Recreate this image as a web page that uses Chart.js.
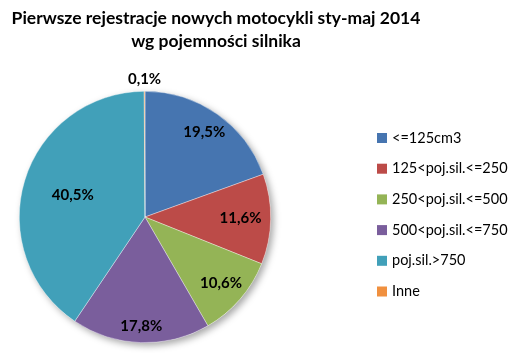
<!DOCTYPE html>
<html>
<head>
<meta charset="utf-8">
<script src="https://cdn.jsdelivr.net/npm/chart.js@4/dist/chart.umd.min.js"></script>
<style>
  body { margin: 0; background: #fff; }
  canvas { display: block; }
</style>
</head>
<body>
<canvas id="pie-chart" width="518" height="353"></canvas>
<script>
// Chart data
var titleLines = ['Pierwsze rejestracje nowych motocykli sty-maj 2014', 'wg pojemności silnika'];
var categories = ['<=125cm3', '125<poj.sil.<=250', '250<poj.sil.<=500', '500<poj.sil.<=750', 'poj.sil.>750', 'Inne'];
var shares = [19.5, 11.6, 10.6, 17.8, 40.5, 0.1];
var sliceColors = ['#4675B0', '#BC4B48', '#94B456', '#7A5E9C', '#41A0B9', '#F0903F'];

// how far out each percentage sits (fraction of radius)
var labelRadius = [0.82, 0.76, 0.8, 0.87, 0.6, 1.1];

var fontFamily = 'Lato, "Open Sans", sans-serif';

// Title, legend, labels and shadow drawn by hand (Excel look)
var excelPie = {
    id: 'excelPie',
    beforeDatasetsDraw: function (chart) {
        var arc = chart.getDatasetMeta(0).data[0];
        var ctx = chart.ctx;
        ctx.save();
        ctx.shadowColor = 'rgba(0,0,0,0.35)';
        ctx.shadowBlur = 7;
        ctx.shadowOffsetX = 3;
        ctx.shadowOffsetY = 3;
        ctx.fillStyle = '#ffffff';
        ctx.beginPath();
        ctx.arc(arc.x, arc.y, arc.outerRadius, 0, Math.PI * 2);
        ctx.fill();
        ctx.restore();
    },
    afterDraw: function (chart) {
        var ctx = chart.ctx;
        ctx.save();

        // title
        ctx.fillStyle = '#000';
        ctx.textAlign = 'center';
        ctx.textBaseline = 'middle';
        ctx.font = 'bold 17.5px ' + fontFamily;
        ctx.fillText(titleLines[0], 216, 18);
        ctx.fillText(titleLines[1], 216, 41);

        // percentages
        ctx.font = 'bold 15px ' + fontFamily;
        chart.getDatasetMeta(0).data.forEach(function (arc, i) {
            var mid = (arc.startAngle + arc.endAngle) / 2;
            var r = arc.outerRadius * labelRadius[i];
            var txt = shares[i].toFixed(1).replace('.', ',') + '%';
            ctx.fillText(txt, arc.x + Math.cos(mid) * r, arc.y + Math.sin(mid) * r);
        });

        // legend
        ctx.font = '14.5px ' + fontFamily;
        ctx.textAlign = 'left';
        categories.forEach(function (name, i) {
            var y = 138 + i * 30.7;
            ctx.fillStyle = sliceColors[i];
            ctx.fillRect(377, y - 5, 10, 10);
            ctx.fillStyle = '#000';
            ctx.fillText(name, 392, y);
        });
        ctx.restore();
    }
};

var ctx = document.getElementById('pie-chart').getContext('2d');
var chart = new Chart(ctx, {
    type: 'pie',
    data: {
        labels: categories,
        datasets: [{
            data: shares,
            backgroundColor: sliceColors,
            borderColor: 'rgba(255,255,255,0.6)',
            borderWidth: 0.6
        }]
    },
    options: {
        responsive: false,
        animation: false,
        layout: { padding: { left: 19, top: 91, right: 247, bottom: 10 } },
        plugins: {
            legend: { display: false },
            title: { display: false },
            tooltip: { enabled: false }
        }
    },
    plugins: [excelPie]
});
</script>
</body>
</html>
